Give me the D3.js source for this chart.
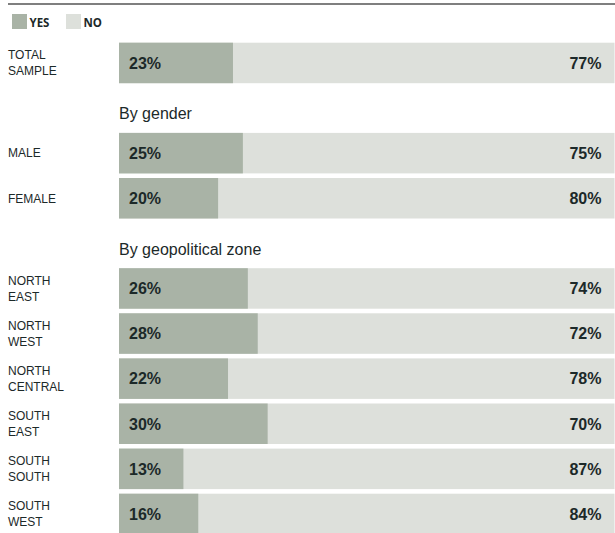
<!DOCTYPE html>
<html>
<head>
<meta charset="utf-8">
<script src="https://cdn.jsdelivr.net/npm/d3@7"></script>
<style>
  html, body { margin: 0; padding: 0; background: #fff; }
  svg { display: block; }
</style>
</head>
<body>
<svg id="chart" width="615" height="533"></svg>
<script>
// Survey answers, share of respondents (%)
const categories = ["TOTAL SAMPLE", "MALE", "FEMALE", "NORTH EAST", "NORTH WEST",
                    "NORTH CENTRAL", "SOUTH EAST", "SOUTH SOUTH", "SOUTH WEST"];
const groups     = ["", "By gender", "By gender", "By geopolitical zone", "By geopolitical zone",
                    "By geopolitical zone", "By geopolitical zone", "By geopolitical zone", "By geopolitical zone"];
const yesValues  = [23, 25, 20, 26, 28, 22, 30, 13, 16];
const noValues   = [77, 75, 80, 74, 72, 78, 70, 87, 84];
const seriesNames = ["YES", "NO"];

const colors = { YES: "#a9b3a6", NO: "#dde0db" };
const textColor = "#1c2929";

const svg = d3.select("#chart");
const W = 615;

// Row slots: each group heading takes one slot of its own above its rows
const slots = [];
let prevGroup = null;
categories.forEach((c, i) => {
  if (groups[i] && groups[i] !== prevGroup) slots.push({ type: "heading", text: groups[i], key: "h" + i });
  slots.push({ type: "row", key: c, cat: c, yes: yesValues[i], no: noValues[i] });
  prevGroup = groups[i];
});

const y = d3.scaleBand()
  .domain(slots.map(s => s.key))
  .range([42.7, 42.7 + 45.1 * slots.length - 4.6])
  .paddingInner(0.102)
  .paddingOuter(0);

const x = d3.scaleLinear().domain([0, 100]).range([119, 614.5]);

// Top rule
svg.append("line")
  .attr("x1", 8).attr("x2", W).attr("y1", 4).attr("y2", 4)
  .attr("stroke", "#555").attr("stroke-width", 1.6);

// Legend
const legend = svg.append("g");
const legendX = [12, 66];
seriesNames.forEach((name, i) => {
  legend.append("rect")
    .attr("x", legendX[i]).attr("y", 14).attr("width", 15).attr("height", 15)
    .attr("fill", colors[name]);
  legend.append("text")
    .attr("x", legendX[i] + 17.5).attr("y", 26.5)
    .attr("font-family", "'Open Sans', sans-serif").attr("font-weight", 700)
    .attr("font-size", 11.5).attr("fill", textColor)
    .text(name);
});

// Group headings
slots.filter(s => s.type === "heading").forEach(s => {
  svg.append("text")
    .attr("x", 119)
    .attr("y", y(s.key) + y.bandwidth() - 9)
    .attr("font-family", "'Liberation Sans', Arial, sans-serif")
    .attr("font-size", 16).attr("fill", textColor)
    .text(s.text);
});

const rows = svg.selectAll("g.row")
  .data(slots.filter(s => s.type === "row"))
  .join("g").attr("class", "row");

// NO bar spans the full width, YES bar drawn over it from the left
rows.append("rect")
  .attr("x", x(0)).attr("y", d => y(d.key))
  .attr("width", d => x(d.yes + d.no) - x(0))
  .attr("height", y.bandwidth())
  .attr("fill", colors.NO);

rows.append("rect")
  .attr("x", x(0)).attr("y", d => y(d.key))
  .attr("width", d => x(d.yes) - x(0))
  .attr("height", y.bandwidth())
  .attr("fill", colors.YES);

// Category labels, split over two lines
rows.append("text")
  .attr("font-family", "'Liberation Sans', Arial, sans-serif")
  .attr("font-size", 12).attr("fill", textColor)
  .each(function (d) {
    const words = d.cat.split(" ");
    const cy = y(d.key) + y.bandwidth() / 2;
    const t = d3.select(this);
    const lh = 16;
    const first = cy + 4.3 - (words.length - 1) * lh / 2;
    words.forEach((w, j) => {
      t.append("tspan").attr("x", 8).attr("y", first + j * lh).text(w);
    });
  });

// Value labels
rows.append("text")
  .attr("x", x(0) + 10)
  .attr("y", d => y(d.key) + y.bandwidth() / 2 + 5.8)
  .attr("font-family", "'Liberation Sans', Arial, sans-serif").attr("font-weight", 700)
  .attr("font-size", 16).attr("fill", textColor)
  .text(d => d.yes + "%");

rows.append("text")
  .attr("x", 601.5)
  .attr("text-anchor", "end")
  .attr("y", d => y(d.key) + y.bandwidth() / 2 + 5.8)
  .attr("font-family", "'Liberation Sans', Arial, sans-serif").attr("font-weight", 700)
  .attr("font-size", 16).attr("fill", textColor)
  .text(d => d.no + "%");
</script>
</body>
</html>
